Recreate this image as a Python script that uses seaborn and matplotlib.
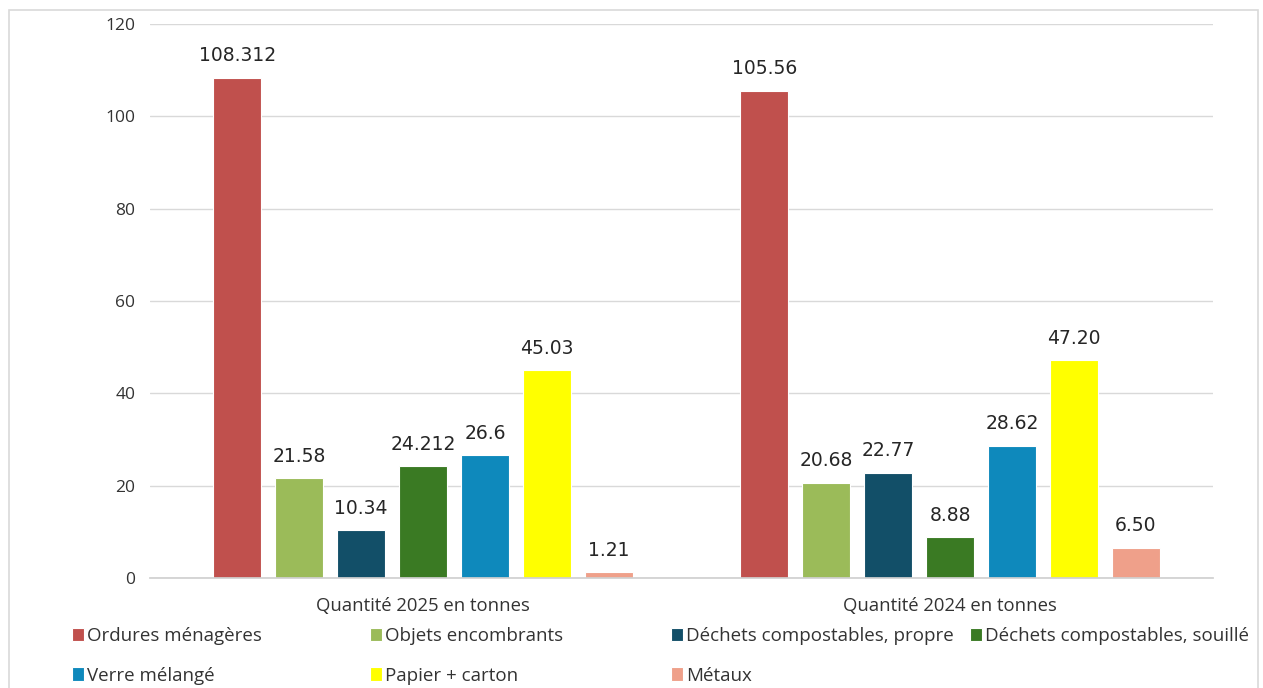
import matplotlib
matplotlib.use("Agg")
import matplotlib.pyplot as plt
import seaborn as sns
import pandas as pd
from matplotlib.patches import Rectangle

periods = ["Quantité 2025 en tonnes", "Quantité 2024 en tonnes"]
types = ["Ordures ménagères", "Objets encombrants", "Déchets compostables, propre",
         "Déchets compostables, souillé", "Verre mélangé", "Papier + carton", "Métaux"]
values_2025 = [108.312, 21.58, 10.34, 24.212, 26.6, 45.03, 1.21]
values_2024 = [105.56, 20.68, 22.77, 8.88, 28.62, 47.20, 6.50]
labels_2025 = ["108.312", "21.58", "10.34", "24.212", "26.6", "45.03", "1.21"]
labels_2024 = ["105.56", "20.68", "22.77", "8.88", "28.62", "47.20", "6.50"]
colors = ["#C0504D", "#9BBB59", "#124F68", "#3A7A23", "#0E89BC", "#FFFF00", "#EFA08A"]
yticks = [0, 20, 40, 60, 80, 100, 120]

rows = []
for t, v in zip(types, values_2025):
    rows.append({"period": periods[0], "type": t, "value": v})
for t, v in zip(types, values_2024):
    rows.append({"period": periods[1], "type": t, "value": v})
df = pd.DataFrame(rows)

sns.set_theme(style="white")
plt.rcParams['font.family'] = ['Open Sans', 'DejaVu Sans']

fig = plt.figure(figsize=(12.63, 6.88), dpi=100)
ax = fig.add_axes([150/1263, 1-578/688, (1213-150)/1263, (578-24)/688])

sns.barplot(data=df, x="period", y="value", hue="type", hue_order=types, order=periods,
            palette=colors, width=0.823, gap=0.226, ax=ax, legend=True,
            edgecolor="#FFFFFF", linewidth=0.8, saturation=1)

ax.set_xlim(-0.518, 1.499)
ax.set_ylim(0, 120)
ax.set_yticks(yticks)
ax.set_yticklabels([str(t) for t in yticks], fontsize=12.5, color="#333333")
ax.yaxis.grid(True, color="#D9D9D9", linewidth=1)
ax.set_axisbelow(True)
for s in ["top", "right", "left"]:
    ax.spines[s].set_visible(False)
ax.spines["bottom"].set_color("#D0D0D0")
ax.tick_params(axis="both", length=0)
ax.tick_params(axis="y", pad=10.5)
ax.tick_params(axis="x", pad=14, labelsize=13.3, labelcolor="#333333")
ax.set_xlabel("")
ax.set_ylabel("")

all_labels = [labels_2025, labels_2024]
for i, cont in enumerate(ax.containers):
    lbls = [all_labels[j][i] for j in range(len(periods))]
    ax.bar_label(cont, labels=lbls, padding=9, fontsize=13.5, color="#262626",
                 family="DejaVu Sans")

handles, leg_labels = ax.get_legend_handles_labels()
ax.get_legend().remove()

col_x = [72, 370, 671, 970]
col_items = [[0, 4], [1, 5], [2, 6], [3]]
for cx, items in zip(col_x, col_items):
    leg = fig.legend([handles[k] for k in items], [leg_labels[k] for k in items],
                     loc="upper left", bbox_to_anchor=(cx/1263, 1-627/688),
                     frameon=False, fontsize=13.5, handlelength=0.62, handleheight=0.7,
                     handletextpad=0.2, labelspacing=1.15, borderaxespad=0, borderpad=0)
    for t in leg.get_texts():
        t.set_color("#333333")

fig.patches.append(Rectangle((9/1263, -0.05), (1258-9)/1263, 1.05-10/688,
                             transform=fig.transFigure, fill=False,
                             edgecolor="#D9D9D9", linewidth=1.2))

fig.savefig("out.png", dpi=100)
